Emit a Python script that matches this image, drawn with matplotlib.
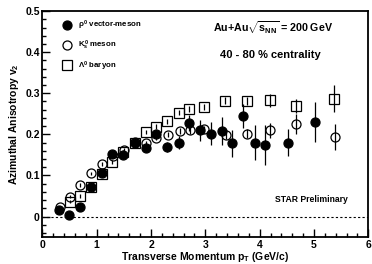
import matplotlib
matplotlib.use("Agg")
import matplotlib.pyplot as plt
from matplotlib.ticker import MultipleLocator
from matplotlib.lines import Line2D

plt.rcParams['font.family'] = ['Liberation Sans', 'DejaVu Sans']
plt.rcParams['font.weight'] = 'bold'
plt.rcParams['mathtext.fontset'] = 'custom'
plt.rcParams['mathtext.rm'] = 'Liberation Sans:bold'
plt.rcParams['mathtext.it'] = 'Liberation Sans:bold'
plt.rcParams['mathtext.bf'] = 'Liberation Sans:bold'

# rho0 vector meson
rho_pt = [0.30, 0.49, 0.70, 0.90, 1.10, 1.29, 1.49, 1.70, 1.90, 2.10, 2.30, 2.51,
          2.70, 2.91, 3.10, 3.30, 3.50, 3.70, 3.91, 4.10, 4.52, 5.01]
rho_v2 = [0.016, 0.004, 0.024, 0.073, 0.105, 0.153, 0.149, 0.180, 0.166, 0.200, 0.170, 0.180,
          0.227, 0.210, 0.201, 0.208, 0.178, 0.245, 0.180, 0.174, 0.180, 0.230]
rho_err = [0.008, 0.006, 0.005, 0.005, 0.005, 0.006, 0.006, 0.007, 0.008, 0.010, 0.012, 0.015,
           0.020, 0.026, 0.028, 0.034, 0.032, 0.030, 0.042, 0.048, 0.032, 0.048]

# K0s meson
k0_pt = [0.32, 0.51, 0.70, 0.90, 1.10, 1.30, 1.50, 1.70, 1.90, 2.10, 2.31, 2.53,
         2.72, 2.97, 3.38, 3.76, 4.19, 4.66, 5.39]
k0_v2 = [0.022, 0.048, 0.077, 0.105, 0.128, 0.148, 0.163, 0.182, 0.180, 0.192, 0.199, 0.209,
         0.210, 0.212, 0.199, 0.202, 0.210, 0.226, 0.194]
k0_err = [0.004, 0.004, 0.004, 0.004, 0.004, 0.004, 0.004, 0.005, 0.005, 0.006, 0.006, 0.007,
          0.008, 0.009, 0.010, 0.012, 0.018, 0.024, 0.032]

# Lambda baryon
lam_pt = [0.51, 0.70, 0.90, 1.10, 1.29, 1.49, 1.70, 1.90, 2.10, 2.30, 2.51, 2.70, 2.97,
          3.37, 3.76, 4.19, 4.66, 5.36]
lam_v2 = [0.036, 0.050, 0.073, 0.103, 0.133, 0.158, 0.180, 0.206, 0.218, 0.232, 0.253, 0.262,
          0.267, 0.282, 0.282, 0.283, 0.269, 0.287]
lam_err = [0.004, 0.004, 0.004, 0.004, 0.004, 0.004, 0.005, 0.005, 0.006, 0.006, 0.007, 0.007,
           0.008, 0.009, 0.010, 0.016, 0.018, 0.032]

labels = [r'$\rho^{0}$ vector-meson', r'$K^{0}_{s}$ meson', r'$\Lambda^{0}$ baryon']

fig = plt.figure(figsize=(3.72, 2.64), dpi=100)
ax = fig.add_axes([0.114, 0.102, 0.876, 0.856])

ms_c = 6.5
ms_s = 6.5
ax.errorbar(lam_pt, lam_v2, yerr=lam_err, fmt='s', ms=ms_s, mfc='none', mec='black',
            mew=0.9, ecolor='black', elinewidth=0.9, capsize=0, zorder=3)
ax.errorbar(k0_pt, k0_v2, yerr=k0_err, fmt='o', ms=ms_c, mfc='none', mec='black',
            mew=0.9, ecolor='black', elinewidth=0.9, capsize=0, zorder=4)
ax.errorbar(rho_pt, rho_v2, yerr=rho_err, fmt='o', ms=ms_c, mfc='black', mec='black',
            mew=0.9, ecolor='black', elinewidth=0.9, capsize=0, zorder=5)

ax.axhline(0, color='black', lw=0.8, ls=(0, (2, 2)), zorder=1)

ax.set_xlim(0, 6)
ax.set_ylim(-0.05, 0.5)
ax.xaxis.set_major_locator(MultipleLocator(1))
ax.xaxis.set_minor_locator(MultipleLocator(0.2))
ax.yaxis.set_major_locator(MultipleLocator(0.1))
ax.yaxis.set_minor_locator(MultipleLocator(0.02))
ax.set_yticks([0, 0.1, 0.2, 0.3, 0.4, 0.5])
ax.set_yticklabels(['0', '0.1', '0.2', '0.3', '0.4', '0.5'])
ax.tick_params(which='both', direction='in', top=False, right=False, labelsize=7.5, width=1.0)
ax.tick_params(which='major', length=6, pad=2)
ax.tick_params(which='minor', length=3)
for s in ax.spines.values():
    s.set_linewidth(1.3)

ax.set_xlabel(r'Transverse Momentum p$_{T}$ (GeV/c)', fontsize=7.5, fontweight='bold', labelpad=0)
ax.set_ylabel(r'Azimuthal Anisotropy v$_{2}$', fontsize=7.5, fontweight='bold', labelpad=3)

handles = [
    Line2D([], [], ls='none', marker='o', ms=ms_c, mfc='black', mec='black', mew=0.9),
    Line2D([], [], ls='none', marker='o', ms=ms_c, mfc='none', mec='black', mew=0.9),
    Line2D([], [], ls='none', marker='s', ms=ms_s, mfc='none', mec='black', mew=0.9),
]
leg = ax.legend(handles, labels, loc='upper left', bbox_to_anchor=(0.04, 0.995), frameon=False,
                fontsize=5.7, handletextpad=0.6, labelspacing=0.9, handlelength=1.4, borderpad=0.3)
for t in leg.get_texts():
    t.set_fontweight('bold')

ax.text(0.707, 0.925, r'Au+Au$\sqrt{s_{NN}}$ = 200 GeV', transform=ax.transAxes, ha='center',
        va='center', fontsize=7.7, fontweight='bold')
ax.text(0.70, 0.805, '40 - 80 % centrality', transform=ax.transAxes, ha='center', va='center',
        fontsize=8.0, fontweight='bold')
ax.text(0.825, 0.168, 'STAR Preliminary', transform=ax.transAxes, ha='center', va='center',
        fontsize=6.2, fontweight='bold')

fig.savefig('out.png', dpi=100)
